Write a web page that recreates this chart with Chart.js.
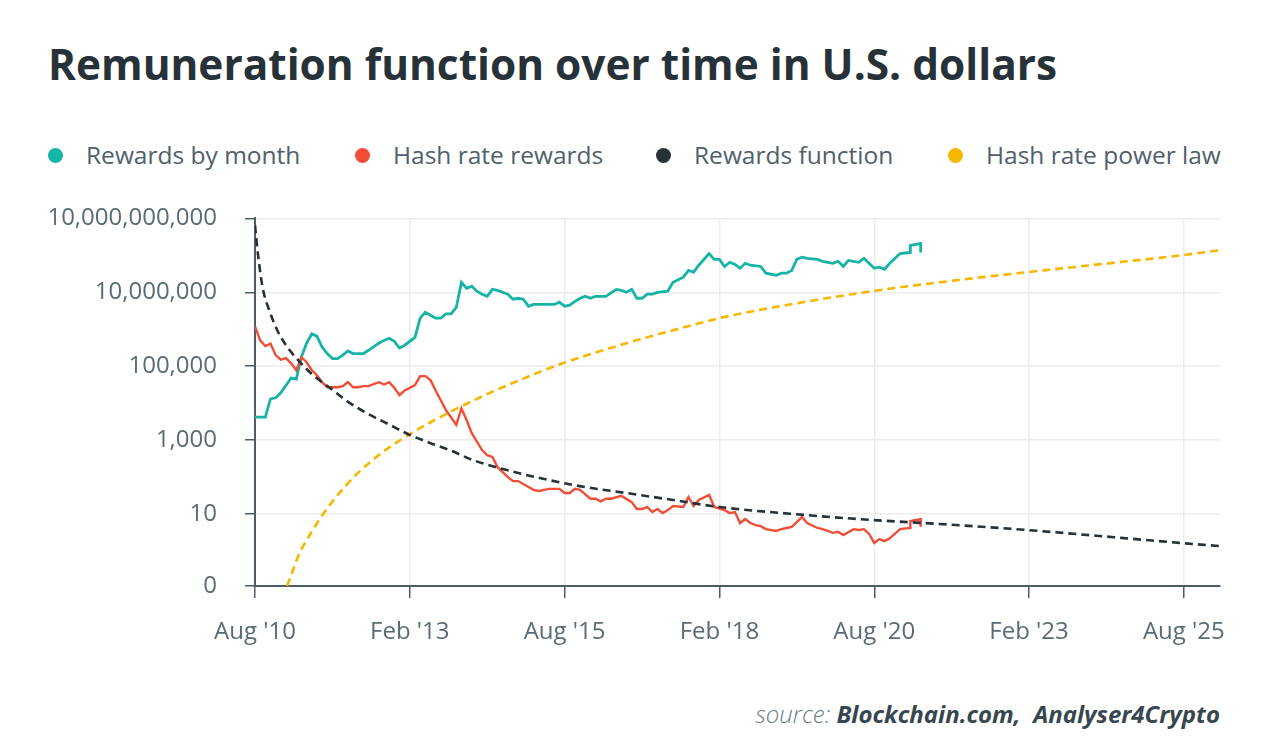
<!DOCTYPE html>
<html>
<head>
<meta charset="utf-8">
<script src="https://cdn.jsdelivr.net/npm/chart.js@4.4.0/dist/chart.umd.min.js"></script>
<style>
  html, body { margin: 0; padding: 0; background: #fff; }
  body { width: 1268px; height: 753px; position: relative; overflow: hidden; font-family: "Open Sans", sans-serif; }
  #title { position: absolute; left: 48px; top: 43px; font-size: 42.4px; line-height: 42px; font-weight: 700; color: #263238; white-space: nowrap; }
  .legend-item { position: absolute; top: 143px; font-size: 24.5px; line-height: 24px; color: #4f606b; white-space: nowrap; }
  .legend-dot { position: absolute; top: 155px; width: 15px; height: 15px; border-radius: 50%; margin-top: -7px; }
  #source { position: absolute; right: 48px; top: 702px; font-size: 24px; line-height: 24px; font-style: italic; color: #37474f; white-space: nowrap; }
  #source .lbl { font-weight: 300; color: #6b7b85; }
  #source b { font-weight: 700; }
  #chartWrap { position: absolute; left: 0; top: 176px; }
</style>
</head>
<body>
<div id="title">Remuneration function over time in U.S. dollars</div>
<div id="legend"></div>
<div id="source"><span class="lbl">source:</span> <b>Blockchain.com,&nbsp; Analyser4Crypto</b></div>
<div id="chartWrap"><canvas id="remChart" width="1268" height="484"></canvas></div>

<script>
// months counted from Aug 2010
const xTickMonths = [0, 30, 60, 90, 120, 150, 180];
const xTickLabels = ["Aug '10", "Feb '13", "Aug '15", "Feb '18", "Aug '20", "Feb '23", "Aug '25"];
const xMax = 187;

const yMin = 0.113;
const yMax = 1e9;
const yTickValues = [yMin, 10, 1e3, 1e5, 1e7, 1e9];
const yTickLabels = ['0', '10', '1,000', '100,000', '10,000,000', '10,000,000,000'];

const seriesNames = ['Rewards by month', 'Hash rate rewards', 'Rewards function', 'Hash rate power law'];
const seriesColors = ['#15b4a6', '#f04e37', '#263238', '#f5b700'];

// Rewards by month
const rewardMonths = [0,2,3,4,5,6,7,8,9,10,11,12,13,14,15,16,17,18,19,21,22,24,25,26,27,28,29,31,32,33,34,35,36,37,38,39,40,41,42,43,44,45,46,47,49,50,51,52,53,54,58,59,60,61,62,63,64,65,66,68,70,71,72,73,74,75,76,77,78,80,81,83,84,85,86,88,89,90,91,92,93,94,95,96,98,99,101,102,103,104,105,106,107,109,110,111,112,113,114,115,117,118,120,121,122,123,125,127,127,129,129];
const rewardValues = [4200,4200,13000,14000,19000,30000,48000,45000,180000,420000,750000,650000,330000,220000,160000,160000,200000,260000,220000,220000,270000,420000,500000,570000,470000,310000,370000,600000,2000000,2900000,2400000,2000000,2000000,2600000,2600000,3900000,18600000,12800000,14600000,10700000,8900000,7800000,12000000,11300000,8900000,6500000,6900000,6500000,4200000,4700000,4700000,5400000,4200000,4500000,5700000,6900000,7800000,6900000,7800000,7800000,12000000,11300000,10000000,12000000,6900000,6900000,8900000,8900000,10000000,10700000,18600000,25700000,39000000,35000000,54000000,112000000,78000000,78000000,50000000,65000000,57000000,45000000,61000000,54000000,50000000,33000000,29000000,33000000,33000000,39000000,78000000,89000000,83000000,78000000,69000000,65000000,61000000,69000000,50000000,73000000,65000000,83000000,45000000,48000000,42000000,61000000,112000000,120000000,185000000,210000000,120000000];

// Hash rate rewards
const hashMonths = [0,1,2,3,4,5,6,7,8,9,10,11,12,13,14,16,17,18,19,20,21,22,24,25,26,27,28,29,31,32,33,34,35,36,37,39,40,41,42,44,45,46,47,49,50,51,53,54,55,57,59,60,61,62,63,65,66,67,68,69,71,73,74,75,76,77,78,79,80,81,83,84,85,86,88,89,91,92,93,94,95,96,97,98,99,101,102,103,104,106,107,109,110,111,112,113,114,116,117,118,119,120,121,122,123,125,127,127,129,129];
const hashValues = [1200000,500000,350000,410000,200000,150000,165000,120000,78000,175000,128000,78000,57000,37000,27000,27000,29000,37000,27000,27000,29000,29000,37000,32000,37000,26000,16500,22000,31000,54000,54000,42000,22000,12000,6500,2600,7200,3500,1550,540,390,350,185,100,78,78,54,45,42,48,48,37,37,48,45,26,26,22,26,26,31,21,13.7,13.7,15.5,11.3,13.7,10.6,12.8,16.5,15.5,29,16.5,24,33,15.5,12.8,10.6,11.3,5.7,7.3,5.7,5.0,4.7,3.9,3.5,3.9,4.2,4.5,8.3,5.7,4.2,3.9,3.5,3.1,3.3,2.7,3.9,3.7,3.9,2.9,1.65,2.1,1.85,2.2,3.9,4.2,6.5,7.3,4.5];

// Rewards function
const fnMonths = [0,0.6,1.5,2.9,4.5,6.4,8.7,11.2,14.5,18.4,22.3,26.1,30,33.9,37.7,42.2,48.8,55.2,62.9,72,81,90,106.8,119.6,132.6,149.6,179.4,186.8];
const fnValues = [6.5e8,1e8,1.3e7,2.9e6,8.3e5,3.1e5,1.3e5,5.8e4,2.6e4,1.0e4,4800,2600,1380,840,540,290,155,94,57,37,24,15.5,9.4,6.9,5.4,3.7,1.65,1.36];

// Hash rate power law
const powMonths = [6.2,7.4,8.3,10.6,13.2,16.5,19.7,24.8,30,37.7,45.5,51.3,59,72,84.8,90,104.1,119.6,132.6,149.6,163.5,179.4,186.8];
const powValues = [0.113,0.31,0.69,2.7,10,39,120,480,1450,5700,19000,42000,112000,420000,1.3e6,2.0e6,4.8e6,1.07e7,1.86e7,3.5e7,5.7e7,1.0e8,1.37e8];

function toPoints(xs, ys) {
    return xs.map((m, i) => ({ x: m, y: ys[i] }));
}

// html legend
const legendX = [48, 355, 656, 948];
const legendEl = document.getElementById('legend');
seriesNames.forEach((name, i) => {
    const dot = document.createElement('div');
    dot.className = 'legend-dot';
    dot.style.left = legendX[i] + 'px';
    dot.style.background = seriesColors[i];
    legendEl.appendChild(dot);
    const txt = document.createElement('div');
    txt.className = 'legend-item';
    txt.style.left = (legendX[i] + 38) + 'px';
    txt.textContent = name;
    legendEl.appendChild(txt);
});

Chart.defaults.font.family = '"Open Sans", sans-serif';
Chart.defaults.color = '#5a6b75';

const axisColor = '#4d5d68';
const gridColor = '#ececec';

const ctx = document.getElementById('remChart').getContext('2d');
new Chart(ctx, {
    type: 'line',
    data: {
        datasets: [{
            label: seriesNames[2],
            data: toPoints(fnMonths, fnValues),
            borderColor: seriesColors[2],
            borderWidth: 2.6,
            borderDash: [8, 5],
            cubicInterpolationMode: 'monotone',
            pointRadius: 0
        }, {
            label: seriesNames[3],
            data: toPoints(powMonths, powValues),
            borderColor: seriesColors[3],
            borderWidth: 2.6,
            borderDash: [8, 5],
            cubicInterpolationMode: 'monotone',
            pointRadius: 0
        }, {
            label: seriesNames[1],
            data: toPoints(hashMonths, hashValues),
            borderColor: seriesColors[1],
            borderWidth: 2.4,
            tension: 0,
            pointRadius: 0
        }, {
            label: seriesNames[0],
            data: toPoints(rewardMonths, rewardValues),
            borderColor: seriesColors[0],
            borderWidth: 2.8,
            tension: 0,
            pointRadius: 0
        }]
    },
    options: {
        responsive: false,
        animation: false,
        devicePixelRatio: 1,
        layout: { padding: { top: 0, right: 48, left: 0, bottom: 0 } },
        plugins: {
            legend: { display: false },
            tooltip: { enabled: false }
        },
        scales: {
            x: {
                type: 'linear',
                min: 0,
                max: xMax,
                afterBuildTicks: scale => {
                    scale.ticks = xTickMonths.map(v => ({ value: v }));
                },
                afterFit: scale => { scale.height = 74; },
                ticks: {
                    font: { size: 24 },
                    color: '#5a6b75',
                    padding: 20,
                    maxRotation: 0,
                    callback: (value) => xTickLabels[xTickMonths.indexOf(value)]
                },
                grid: { color: gridColor, tickColor: axisColor, tickLength: 12, lineWidth: 1.5 },
                border: { color: axisColor, width: 2 }
            },
            y: {
                type: 'logarithmic',
                min: yMin,
                max: yMax,
                afterBuildTicks: scale => {
                    scale.ticks = yTickValues.map(v => ({ value: v }));
                },
                afterFit: scale => { scale.width = 255; },
                ticks: {
                    font: { size: 24 },
                    color: '#5a6b75',
                    padding: 28,
                    callback: (value) => {
                        const idx = yTickValues.indexOf(value);
                        return idx >= 0 ? yTickLabels[idx] : '';
                    }
                },
                grid: { color: gridColor, tickColor: axisColor, tickLength: 10, lineWidth: 1.5 },
                border: { color: axisColor, width: 2 }
            }
        }
    }
});
</script>
</body>
</html>
